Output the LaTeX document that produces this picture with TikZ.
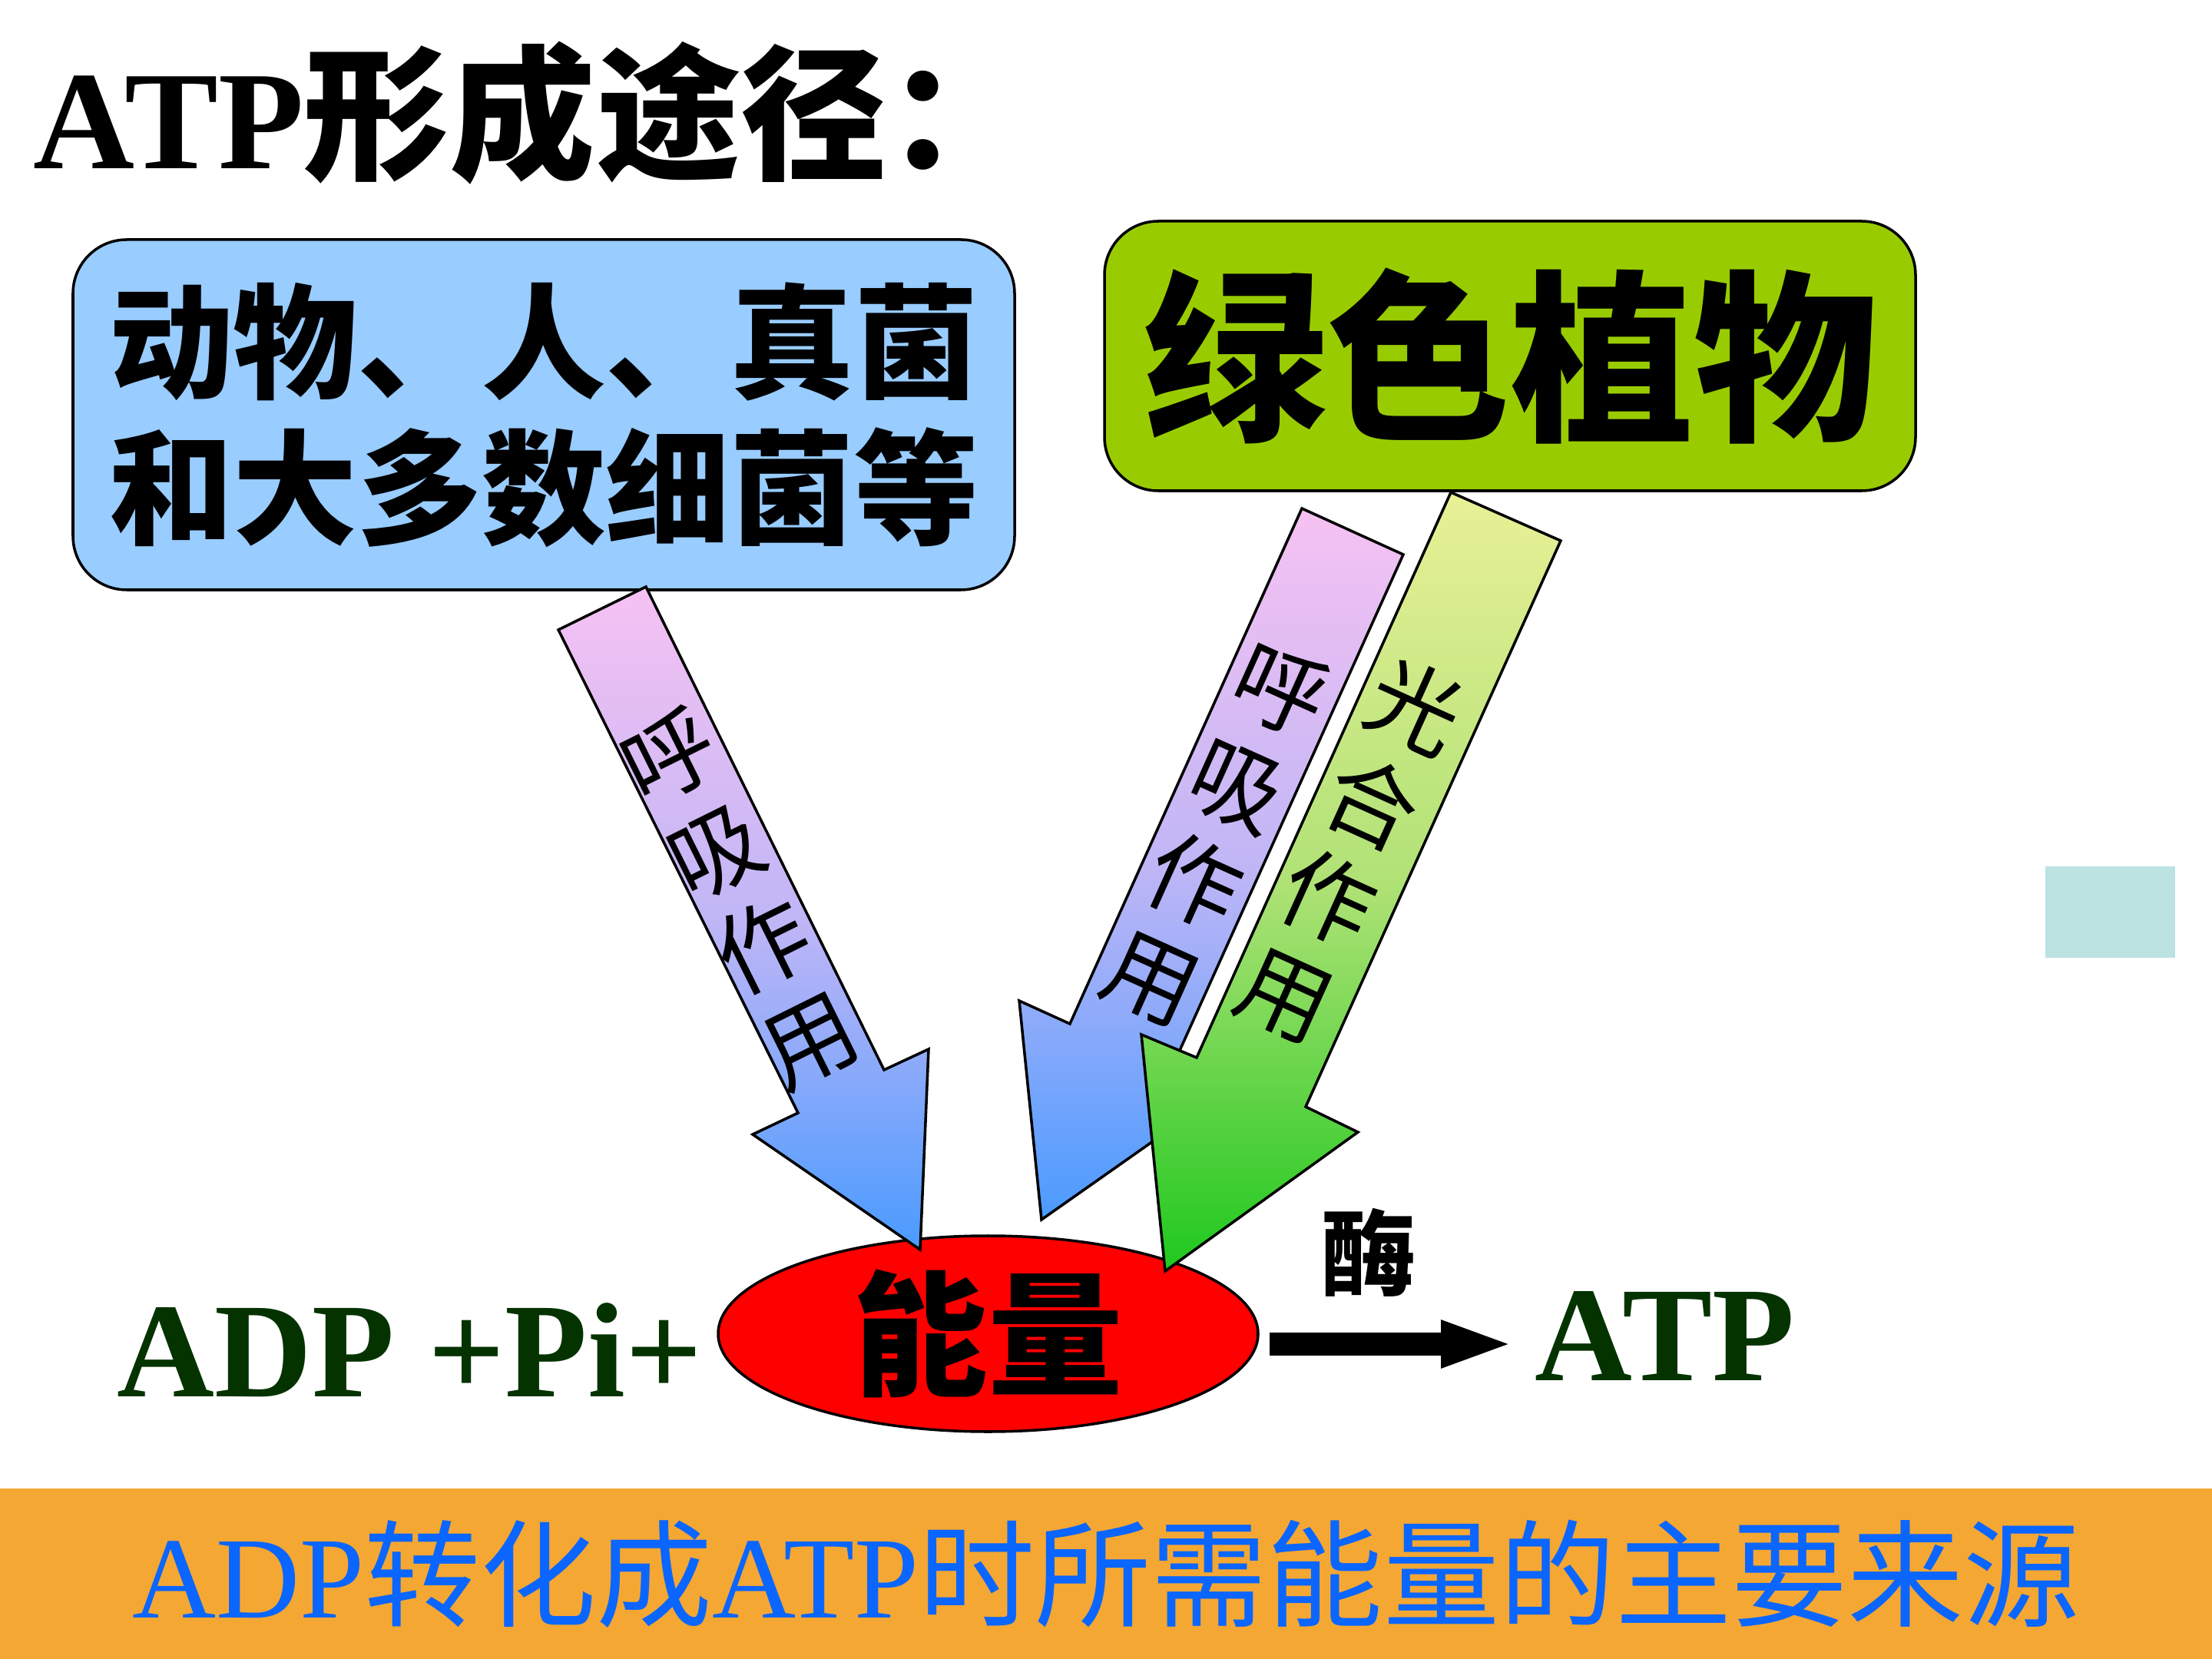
\documentclass[tikz,border=0pt]{standalone}
\usepackage{fontspec}
\setmainfont{Liberation Serif}
\newfontfamily\cjk{Noto Sans CJK SC}
\usepackage{tikz}
\usetikzlibrary{arrows.meta, shapes.geometric, positioning}
\usepackage{xcolor}
\definecolor{boxblue}{RGB}{153,204,255}
\definecolor{plantgreen}{RGB}{153,204,0}
\definecolor{arrpink}{RGB}{246,194,242}
\definecolor{arrlav}{RGB}{192,182,246}
\definecolor{arrblue}{RGB}{74,155,255}
\definecolor{arryellow}{RGB}{232,240,150}
\definecolor{arrmid}{RGB}{176,226,118}
\definecolor{arrgreen}{RGB}{30,200,30}
\definecolor{darkgreen}{RGB}{5,51,0}
\definecolor{bannerorange}{RGB}{245,167,51}
\definecolor{bannerblue}{RGB}{10,102,255}
\definecolor{paleteal}{RGB}{188,226,226}

\begin{document}
\begin{tikzpicture}[
    group/.style={rectangle, draw=black, line width=1pt, rounded corners=0.7cm,
                  align=center, inner sep=0pt},
    respflow/.style={draw=black, line width=1pt, line join=miter,
                     top color=arrpink, bottom color=arrblue, middle color=arrlav},
    photoflow/.style={draw=black, line width=1pt, line join=miter,
                      top color=arryellow, bottom color=arrgreen, middle color=arrmid},
    flowlabel/.style={align=center, inner sep=0pt,
                      font=\cjk\fontsize{34pt}{39pt}\selectfont},
    formula/.style={anchor=base west, inner sep=0pt, text=darkgreen,
                    font=\bfseries\fontsize{50pt}{56pt}\selectfont},
    fat/.style={line width=0.3cm, -{Triangle[length=0.96cm, width=0.55cm]}}
]
\useasboundingbox (0,0) rectangle (28.8,-21.6);
\fill[white] (0,0) rectangle (28.8,-21.6);

\node[anchor=base west, inner sep=0pt] (title) at (0.43,-2.20)
    {\bfseries\fontsize{52pt}{60pt}\selectfont ATP{\cjk\fontsize{54pt}{60pt}\selectfont 形成途径：}};

\node[group, fill=boxblue, minimum width=12.26cm, minimum height=4.56cm,
      font=\cjk\bfseries\fontsize{46pt}{54pt}\selectfont] (animals) at (7.08,-5.40)
    {动物、人、真菌\\和大多数细菌等};
\node[group, fill=plantgreen, minimum width=10.56cm, minimum height=3.51cm,
      font=\cjk\bfseries\fontsize{68pt}{72pt}\selectfont] (plants) at (19.66,-4.635) {绿色植物};

\node[ellipse, draw=black, line width=1pt, fill=red, minimum width=7.03cm, minimum height=2.55cm,
      inner sep=0pt, font=\cjk\bfseries\fontsize{50pt}{56pt}\selectfont] (energy) at (12.865,-17.365)
    {\raisebox{-0.1cm}{能量}};

% three supply arrows
\draw[respflow] (7.27,-8.20) -- (8.41,-7.64) -- (11.51,-13.93) -- (12.09,-13.66)
    -- (11.98,-16.27) -- (9.80,-14.77) -- (10.39,-14.49) -- cycle;
\draw[respflow] (16.95,-6.62) -- (18.27,-7.22) -- (15.25,-13.92) -- (15.92,-14.22)
    -- (13.56,-15.88) -- (13.27,-13.03) -- (13.93,-13.33) -- cycle;
\draw[photoflow] (18.89,-6.41) -- (20.32,-7.04) -- (17.00,-14.41) -- (17.68,-14.74)
    -- (15.17,-16.55) -- (14.86,-13.47) -- (15.58,-13.77) -- cycle;

\node[flowlabel, rotate=26.4] (resp1) at (9.63,-11.70) {呼\\吸\\作\\用};
\node[flowlabel, rotate=-24.2] (resp2) at (15.83,-10.85) {呼\\吸\\作\\用};
\node[flowlabel, rotate=-24.3] (photo) at (17.58,-11.07) {光\\合\\作\\用};

\node[formula] (adp) at (1.52,-18.18) {ADP +Pi+};
\node[formula] (atp) at (19.98,-17.97) {ATP};
\node[inner sep=0pt, font=\cjk\bfseries\fontsize{35pt}{40pt}\selectfont] (enzyme) at (17.82,-16.31) {酶};
\draw[fat, shorten <=0.13cm, shorten >=0.26cm]
    ([yshift=-1.35mm]energy.east) -- ([yshift=-1.35mm]energy.east -| atp.west);

\fill[paleteal] (26.63,-11.28) rectangle (28.32,-12.47);

\node[rectangle, fill=bannerorange, minimum width=28.8cm, minimum height=2.22cm,
      inner sep=0pt, text=bannerblue, font=\fontsize{43pt}{48pt}\selectfont] (note) at (14.4,-20.49)
    {\raisebox{-0.12cm}{ADP{\cjk 转化成}ATP{\cjk 时所需能量的主要来源}}};
\end{tikzpicture}
\end{document}
